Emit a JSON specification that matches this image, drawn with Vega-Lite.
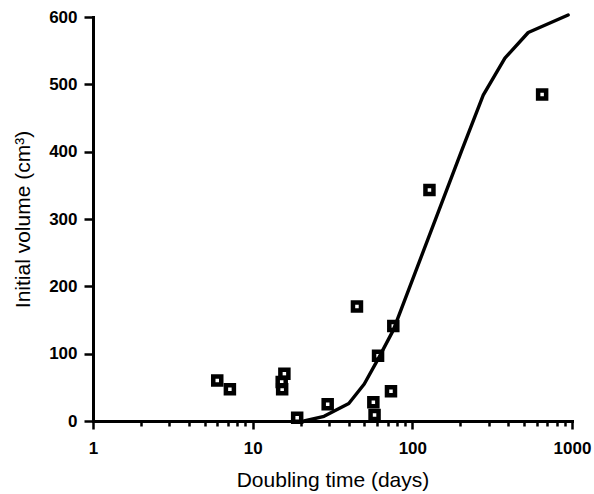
{
  "$schema": "https://vega.github.io/schema/vega-lite/v6.json",
  "width": 479,
  "height": 404,
  "autosize": {"type": "none"},
  "padding": {"left": 93, "top": 17, "right": 22, "bottom": 73},
  "background": "white",
  "config": {
    "view": {"stroke": null, "fill": null},
    "axis": {
      "grid": false,
      "domain": true,
      "domainColor": "#000000",
      "domainOpacity": 1,
      "domainWidth": 3,
      "domainCap": "square",
      "zindex": 1,
      "tickColor": "black",
      "tickWidth": 2.5,
      "labelFont": "Liberation Sans",
      "labelFontWeight": "bold",
      "labelFontSize": 17,
      "labelColor": "black",
      "labelOverlap": false,
      "titleFont": "Liberation Sans",
      "titleFontWeight": "normal",
      "titleFontSize": 21,
      "titleColor": "black"
    }
  },
  "datasets": {
    "obs": [
      {"doubling": 6.0, "volume": 60},
      {"doubling": 7.2, "volume": 47},
      {"doubling": 15.8, "volume": 70},
      {"doubling": 15.2, "volume": 58},
      {"doubling": 15.3, "volume": 47},
      {"doubling": 19, "volume": 5},
      {"doubling": 29.5, "volume": 25},
      {"doubling": 45, "volume": 170},
      {"doubling": 57, "volume": 28},
      {"doubling": 58, "volume": 9},
      {"doubling": 61, "volume": 97},
      {"doubling": 76, "volume": 141},
      {"doubling": 73.5, "volume": 44},
      {"doubling": 128, "volume": 343},
      {"doubling": 650, "volume": 485}
    ],
    "model": [
      {"doubling": 21, "volume": 0},
      {"doubling": 28, "volume": 7},
      {"doubling": 40, "volume": 26},
      {"doubling": 50, "volume": 55},
      {"doubling": 61, "volume": 92},
      {"doubling": 76, "volume": 135},
      {"doubling": 204, "volume": 402},
      {"doubling": 278, "volume": 484},
      {"doubling": 380, "volume": 539},
      {"doubling": 532, "volume": 577},
      {"doubling": 946, "volume": 603}
    ]
  },
  "layer": [
    {
      "data": {"name": "obs"},
      "mark": {"type": "point", "shape": "square", "filled": false, "stroke": "black", "strokeWidth": 4.5, "size": 64, "opacity": 1},
      "encoding": {
        "x": {
          "field": "doubling", "type": "quantitative",
          "scale": {"type": "log", "domain": [1, 1000], "nice": false},
          "axis": {
            "orient": "bottom", "title": "Doubling time (days)",
            "domain": true, "domainColor": "#000000", "domainWidth": 3, "zindex": 1,
            "values": [1, 2, 3, 4, 5, 6, 7, 8, 9, 10, 20, 30, 40, 50, 60, 70, 80, 90, 100, 200, 300, 400, 500, 600, 700, 800, 900, 1000],
            "format": "d",
            "labelExpr": "indexof([1, 10, 100, 1000], datum.value) >= 0 ? datum.label : ''",
            "tickSize": {"condition": {"test": "indexof([1, 10, 100, 1000], datum.value) >= 0", "value": 8}, "value": 5},
            "labelPadding": 11, "titlePadding": 13, "labelFlush": false
          }
        },
        "y": {
          "field": "volume", "type": "quantitative",
          "scale": {"type": "linear", "domain": [0, 600], "nice": false},
          "axis": {
            "orient": "left", "title": "Initial volume (cm³)",
            "domain": true, "domainColor": "#000000", "domainWidth": 3, "zindex": 1,
            "values": [0, 50, 100, 150, 200, 250, 300, 350, 400, 450, 500, 550, 600],
            "format": "d",
            "labelExpr": "datum.value % 100 === 0 ? datum.label : ''",
            "tickSize": {"condition": {"test": "datum.value % 100 === 0", "value": 9}, "value": 5},
            "labelPadding": 7, "titlePadding": 15
          }
        }
      }
    },
    {
      "data": {"name": "model"},
      "mark": {"type": "line", "color": "black", "strokeWidth": 3.4, "strokeJoin": "round", "strokeCap": "round"},
      "encoding": {
        "x": {"field": "doubling", "type": "quantitative"},
        "y": {"field": "volume", "type": "quantitative"}
      }
    }
  ]
}
